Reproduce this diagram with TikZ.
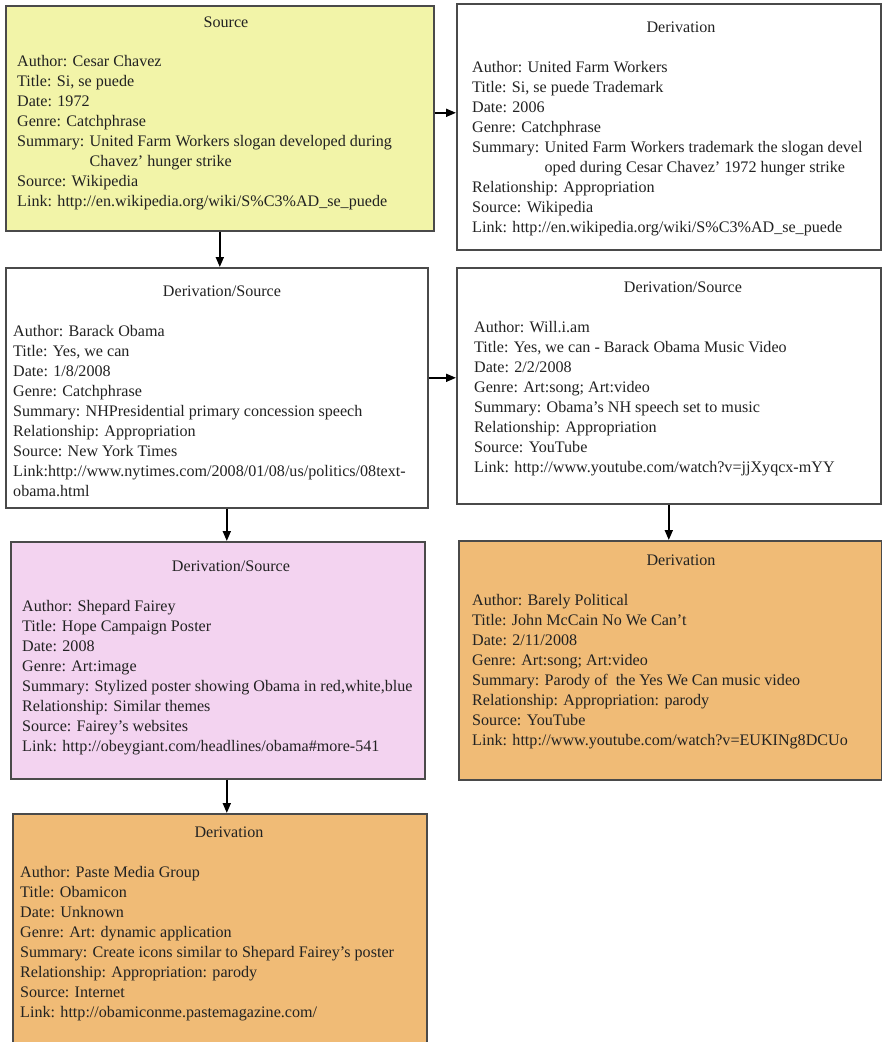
\documentclass[tikz,border=0pt]{standalone}
\usepackage{fontspec}
\setmainfont{Liberation Serif}
\usetikzlibrary{arrows.meta,calc}
\definecolor{yelfill}{HTML}{F2F4A8}
\definecolor{pinkfill}{HTML}{F3D3F0}
\definecolor{orangefill}{HTML}{F0BB76}
\definecolor{boxline}{HTML}{4A4A4A}
\definecolor{txtcol}{HTML}{222222}
\newcommand\boxfont{\fontsize{16.1}{20}\selectfont}
\newcommand\sumind{\hphantom{Summary: }}
\begin{document}
\begin{tikzpicture}[x=1pt,y=-1pt,
  box/.style={draw=boxline, line width=1.6pt, rectangle, inner sep=0pt, anchor=north west},
  ttl/.style={anchor=base, font=\boxfont, text=txtcol, inner sep=0pt},
  body/.style={anchor=base west, align=left, font=\boxfont, text=txtcol, inner sep=0pt},
  arr/.style={draw=black, line width=1.8pt, -{Triangle[length=10pt,width=8pt]}}]
\useasboundingbox (0,0) rectangle (882,1042);
\clip (0,0) rectangle (882,1042);
% boxes
\node[box, fill=yelfill, minimum width=428pt, minimum height=225pt] (b1) at (5,5) {};
\node[box, fill=white, minimum width=424pt, minimum height=246pt] (b2) at (456,3) {};
\node[box, fill=white, minimum width=422pt, minimum height=240pt] (b3) at (5,267) {};
\node[box, fill=white, minimum width=424pt, minimum height=236pt] (b4) at (456,267) {};
\node[box, fill=pinkfill, minimum width=414pt, minimum height=237pt] (b5) at (10,541) {};
\node[box, fill=orangefill, minimum width=423pt, minimum height=239pt] (b6) at (458,540) {};
\node[box, fill=orangefill, minimum width=414pt, minimum height=260pt] (b7) at (12,813) {};
% titles
\node[ttl] (h1) at (226,27) {Source};
\node[ttl] (h2) at (681,32) {Derivation};
\node[ttl] (h3) at (222,296) {Derivation/Source};
\node[ttl] (h4) at (683,292) {Derivation/Source};
\node[ttl] (h5) at (231,571) {Derivation/Source};
\node[ttl] (h6) at (681,565) {Derivation};
\node[ttl] (h7) at (229,837) {Derivation};
% bodies (base anchor = baseline of the last line)
\node[body] (t1) at (17,206.5) {Author: Cesar Chavez\\
Title: Si, se puede\\
Date: 1972\\
Genre: Catchphrase\\
Summary: United Farm Workers slogan developed during\\
\sumind Chavez’ hunger strike\\
Source: Wikipedia\\
Link: http://en.wikipedia.org/wiki/S\%C3\%AD\_se\_puede};
\node[body] (t2) at (472,232.5) {Author: United Farm Workers\\
Title: Si, se puede Trademark\\
Date: 2006\\
Genre: Catchphrase\\
Summary: United Farm Workers trademark the slogan devel\\
\sumind oped during Cesar Chavez’ 1972 hunger strike\\
Relationship: Appropriation\\
Source: Wikipedia\\
Link: http://en.wikipedia.org/wiki/S\%C3\%AD\_se\_puede};
\node[body] (t3) at (13,496.5) {Author: Barack Obama\\
Title: Yes, we can\\
Date: 1/8/2008\\
Genre: Catchphrase\\
Summary: NHPresidential primary concession speech\\
Relationship: Appropriation\\
Source: New York Times\\
Link:http://www.nytimes.com/2008/01/08/us/politics/08text-\\
obama.html};
\node[body] (t4) at (474,472.5) {Author: Will.i.am\\
Title: Yes, we can - Barack Obama Music Video\\
Date: 2/2/2008\\
Genre: Art:song; Art:video\\
Summary: Obama’s NH speech set to music\\
Relationship: Appropriation\\
Source: YouTube\\
Link: http://www.youtube.com/watch?v=jjXyqcx-mYY};
\node[body] (t5) at (22,751.5) {Author: Shepard Fairey\\
Title: Hope Campaign Poster\\
Date: 2008\\
Genre: Art:image\\
Summary: Stylized poster showing Obama in red,white,blue\\
Relationship: Similar themes\\
Source: Fairey’s websites\\
Link: http://obeygiant.com/headlines/obama\#more-541};
\node[body] (t6) at (472,745.5) {Author: Barely Political\\
Title: John McCain No We Can’t\\
Date: 2/11/2008\\
Genre: Art:song; Art:video\\
Summary: Parody of\ \ the Yes We Can music video\\
Relationship: Appropriation: parody\\
Source: YouTube\\
Link: http://www.youtube.com/watch?v=EUKINg8DCUo};
\node[body] (t7) at (20,1017.5) {Author: Paste Media Group\\
Title: Obamicon\\
Date: Unknown\\
Genre: Art: dynamic application\\
Summary: Create icons similar to Shepard Fairey’s poster\\
Relationship: Appropriation: parody\\
Source: Internet\\
Link: http://obamiconme.pastemagazine.com/};
% connectors
\coordinate (c12) at ($(b1.east)+(0,-5.5)$);
\coordinate (c34) at ($(b3.east)+(0,-10)$);
\coordinate (c35) at ($(b3.south)+(10,0)$);
\coordinate (c57) at ($(b5.south)+(9,0)$);
\draw[arr] (b1.south) -- (b1.south |- b3.north);
\draw[arr] (c12) -- (c12 -| b2.west);
\draw[arr] (c34) -- (c34 -| b4.west);
\draw[arr] (c35) -- (c35 |- b5.north);
\draw[arr] (b4.south) -- (b4.south |- b6.north);
\draw[arr] (c57) -- (c57 |- b7.north);
\end{tikzpicture}
\end{document}
